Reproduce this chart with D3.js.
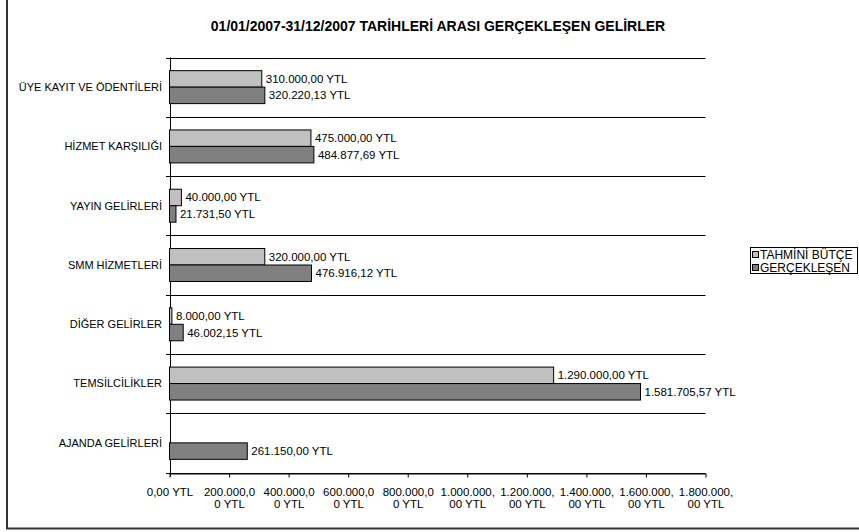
<!DOCTYPE html>
<html>
<head>
<meta charset="utf-8">
<script src="https://cdn.jsdelivr.net/npm/d3@7/dist/d3.min.js"></script>
<style>
  html, body { margin: 0; padding: 0; background: #fff; }
  svg { display: block; }
  text { font-family: "Liberation Sans", Arial, sans-serif; fill: #000; }
</style>
</head>
<body>
<svg id="chart" width="859" height="532"></svg>
<script>
const title = "01/01/2007-31/12/2007 TARİHLERİ ARASI GERÇEKLEŞEN GELİRLER";
const categories = ["ÜYE KAYIT VE ÖDENTİLERİ", "HİZMET KARŞILIĞI", "YAYIN GELİRLERİ", "SMM HİZMETLERİ", "DİĞER GELİRLER", "TEMSİLCİLİKLER", "AJANDA GELİRLERİ"];
const seriesNames = ["TAHMİNİ BÜTÇE", "GERÇEKLEŞEN"];
const budget = [310000.00, 475000.00, 40000.00, 320000.00, 8000.00, 1290000.00, null];
const actual = [320220.13, 484877.69, 21731.50, 476916.12, 46002.15, 1581705.57, 261150.00];
const tickValues = [0, 200000, 400000, 600000, 800000, 1000000, 1200000, 1400000, 1600000, 1800000];
const tickLabels = ["0,00 YTL", "200.000,0\n0 YTL", "400.000,0\n0 YTL", "600.000,0\n0 YTL", "800.000,0\n0 YTL",
  "1.000.000,\n00 YTL", "1.200.000,\n00 YTL", "1.400.000,\n00 YTL", "1.600.000,\n00 YTL", "1.800.000,\n00 YTL"];
const colors = ["#C0C0C0", "#808080"];

const locale = d3.formatLocale({decimal: ",", thousands: ".", grouping: [3], currency: ["", " YTL"]});
const fmt = v => locale.format(",.2f")(v) + " YTL";

const svg = d3.select("#chart");

// outer frame
svg.append("rect").attr("x", 7).attr("y", -10).attr("width", 862).attr("height", 538.5)
  .attr("fill", "none").attr("stroke", "#333").attr("stroke-width", 2);

// title
svg.append("text").attr("x", 438).attr("y", 31).attr("text-anchor", "middle")
  .style("font-weight", "bold").style("font-size", "14px").text(title);

const x = d3.scaleLinear().domain([0, 1800000]).range([169.5, 705.5]);
const y = d3.scaleBand().domain(categories).range([57.5, 472.5]);
const bw = y.bandwidth();
const ySub = d3.scaleBand().domain(seriesNames).range([bw * 0.222, bw * 0.778]);

// category separators (gridlines)
const bounds = categories.map(c => y(c)).concat([y.range()[1]]);
svg.append("g").selectAll("line").data(bounds).join("line")
  .attr("x1", 166).attr("x2", x.range()[1])
  .attr("y1", d => Math.round(d) + 0.5).attr("y2", d => Math.round(d) + 0.5)
  .attr("stroke", "#000").attr("stroke-width", 1);

// x axis
const xAxis = svg.append("g").attr("transform", "translate(0," + (Math.round(y.range()[1]) + 0.5) + ")")
  .call(d3.axisBottom(x).tickValues(tickValues).tickSize(4).tickSizeOuter(0).tickFormat(""));
xAxis.select(".domain").attr("stroke", "#000");
xAxis.selectAll(".tick line").attr("stroke", "#000");
xAxis.selectAll(".tick").each(function(d, i) {
  const t = d3.select(this).append("text").attr("text-anchor", "middle")
    .style("font-size", "11.5px").attr("fill", "#000");
  tickLabels[i].split("\n").forEach((line, k) => {
    t.append("tspan").attr("x", 0).attr("y", 22 + k * 12.7).text(line);
  });
});

// y axis line
svg.append("line").attr("x1", Math.round(x(0)) + 0.5).attr("x2", Math.round(x(0)) + 0.5)
  .attr("y1", y.range()[0]).attr("y2", y.range()[1] + 4).attr("stroke", "#000");

// category labels
svg.append("g").selectAll("text").data(categories).join("text")
  .attr("x", 162).attr("y", d => y(d) + bw / 2).attr("dy", "0.35em")
  .attr("text-anchor", "end").style("font-size", "11px").text(d => d);

// bars
const rows = [];
categories.forEach((c, i) => {
  [budget[i], actual[i]].forEach((v, s) => {
    if (v !== null) rows.push({c, s, v});
  });
});
svg.append("g").selectAll("rect").data(rows).join("rect")
  .attr("x", x(0))
  .attr("y", d => y(d.c) + ySub(seriesNames[d.s]))
  .attr("width", d => x(d.v) - x(0))
  .attr("height", ySub.bandwidth())
  .attr("fill", d => colors[d.s]).attr("stroke", "#000").attr("stroke-width", 1);

svg.append("g").selectAll("text").data(rows).join("text")
  .attr("x", d => x(d.v) + 4)
  .attr("y", d => y(d.c) + ySub(seriesNames[d.s]) + ySub.bandwidth() / 2)
  .attr("dy", "0.35em")
  .style("font-size", "11.5px").text(d => fmt(d.v));

// legend
const lg = svg.append("g");
lg.append("rect").attr("x", 750.5).attr("y", 247.5).attr("width", 107).attr("height", 26)
  .attr("fill", "#fff").attr("stroke", "#000");
seriesNames.forEach((n, i) => {
  lg.append("rect").attr("x", 752.5).attr("y", 251.5 + i * 13).attr("width", 6).attr("height", 6)
    .attr("fill", colors[i]).attr("stroke", "#000");
  lg.append("text").attr("x", 760).attr("y", 258.8 + i * 13).style("font-size", "12px").text(n);
});
</script>
</body>
</html>
